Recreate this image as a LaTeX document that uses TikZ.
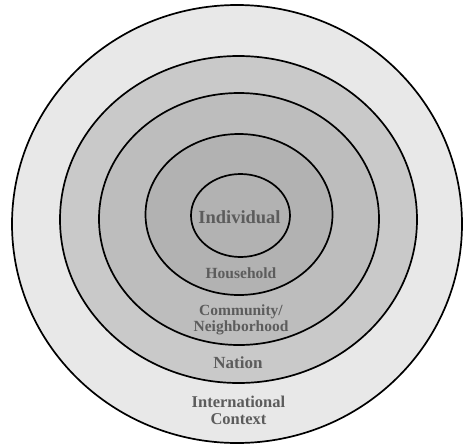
\documentclass[tikz,border=0pt]{standalone}
\usepackage{fontspec}
\setmainfont{Liberation Serif}

\definecolor{ringA}{gray}{0.91}
\definecolor{ringB}{gray}{0.79}
\definecolor{ringC}{gray}{0.74}
\definecolor{ringD}{gray}{0.70}
\definecolor{labelgray}{gray}{0.36}

\begin{document}
\begin{tikzpicture}[x=1pt, y=-1pt,
    ring/.style={draw=black, line width=1.7pt},
    lbl/.style={text=labelgray, align=center, inner sep=0pt}]

  \useasboundingbox (0,0) rectangle (463,445);

  % Ringen, van buiten naar binnen
  \draw[ring, fill=ringA] (237,224)   ellipse [x radius=225,  y radius=219];
  \draw[ring, fill=ringB] (238.5,219.5) ellipse [x radius=178.5, y radius=163.5];
  \draw[ring, fill=ringC] (239,219)   ellipse [x radius=140,  y radius=126];
  \draw[ring, fill=ringD] (239,214.5) ellipse [x radius=93.5, y radius=80.5];
  \draw[ring, fill=ringD] (240.5,215.5) ellipse [x radius=49.5, y radius=41.5];

  % Namen van de niveaus
  \node[lbl, font=\bfseries\fontsize{18.5}{18.5}\selectfont] (individual) at (239.5,217) {Individual};
  \node[lbl, font=\bfseries\fontsize{15.5}{15.5}\selectfont] (household) at (241,273) {Household};
  \node[lbl, font=\bfseries\fontsize{15.5}{16.5}\selectfont] (community) at (241,320) {Community/\\Neighborhood};
  \node[lbl, font=\bfseries\fontsize{17}{17}\selectfont] (nation) at (238,363) {Nation};
  \node[lbl, font=\bfseries\fontsize{16.5}{17}\selectfont] (international) at (238.5,410.5) {International\\Context};

\end{tikzpicture}
\end{document}
